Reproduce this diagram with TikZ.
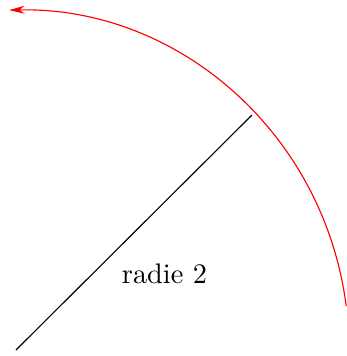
\documentclass[tikz,border=0pt]{standalone}
\usetikzlibrary{arrows.meta}
\begin{document}
\begin{tikzpicture}[x=0.3533pt,y=0.3533pt,
  radiusline/.style={black, line width=0.4pt},
  arcline/.style={red, line width=0.4pt, -{Stealth[length=5.5pt,width=2.8pt]}}]
\useasboundingbox (0,0) rectangle (347,356);
\coordinate (O) at (16,6);
\coordinate (P) at (252,241);
\coordinate (S) at ([shift={(7.4:333 and 340)}]O);
\draw[radiusline] (O) -- (P);
\draw[arcline] (S) arc[start angle=7.4, end angle=91.2, x radius=333, y radius=340];
\node[anchor=base, inner sep=0pt] (lbl) at (164.5,72.7) {radie 2};
\end{tikzpicture}
\end{document}
